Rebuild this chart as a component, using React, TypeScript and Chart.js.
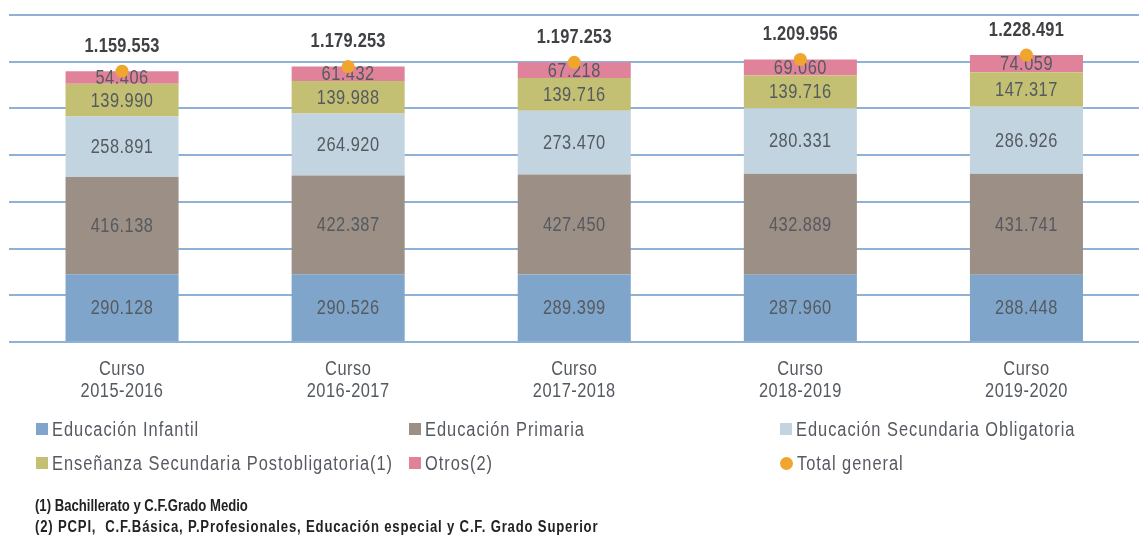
import React, { useEffect, useRef } from "react";
import { Chart, registerables } from "chart.js";

Chart.register(...registerables);

// ---- Data ----
const categories = [
  ["Curso", "2015-2016"],
  ["Curso", "2016-2017"],
  ["Curso", "2017-2018"],
  ["Curso", "2018-2019"],
  ["Curso", "2019-2020"],
];
const infantil = [290128, 290526, 289399, 287960, 288448];
const primaria = [416138, 422387, 427450, 432889, 431741];
const secundariaObligatoria = [258891, 264920, 273470, 280331, 286926];
const postobligatoria = [139990, 139988, 139716, 139716, 147317];
const otros = [54406, 61432, 67218, 69060, 74059];
const totalGeneral = [1159553, 1179253, 1197253, 1209956, 1228491];

const seriesNames = [
  "Educación Infantil",
  "Educación Primaria",
  "Educación Secundaria Obligatoria",
  "Enseñanza Secundaria Postobligatoria(1)",
  "Otros(2)",
  "Total general",
];
const seriesColors = ["#7fa6ca", "#9c8f86", "#c3d4e1", "#c3c073", "#e0839a", "#f0a62c"];
const footnotes = [
  "(1) Bachillerato y C.F.Grado Medio",
  "(2) PCPI,  C.F.Básica, P.Profesionales, Educación especial y C.F. Grado Superior",
];
const yMax = 1400000;
const yStep = 200000;

const FONT = '"Liberation Sans", Arial, sans-serif';
const NARROW = 0.82; // horizontal compression to imitate a condensed face
const TEXT_COLOR = "#555a60";

const fmt = (v: number) => String(v).replace(/\B(?=(\d{3})+(?!\d))/g, ".");

function drawNarrow(ctx: any, text: string, x: number, y: number, font: string, color: string, spacing: string) {
  ctx.save();
  ctx.font = font;
  ctx.letterSpacing = spacing;
  ctx.fillStyle = color;
  ctx.textAlign = "center";
  ctx.textBaseline = "middle";
  ctx.translate(x, y);
  ctx.scale(NARROW, 1);
  ctx.fillText(text, 0, 0);
  ctx.restore();
}

const labelsPlugin = {
  id: "valueLabels",
  afterDatasetDraw(chart: any, args: any) {
    const meta = args.meta;
    if (meta.type !== "bar") return;
    const ds = chart.data.datasets[args.index];
    meta.data.forEach((el: any, i: number) => {
      const p = el.getProps(["x", "y", "base"], true);
      drawNarrow(chart.ctx, fmt(ds.data[i]), p.x, (p.y + p.base) / 2 + 1, `20px ${FONT}`, TEXT_COLOR, "0.6px");
    });
  },
  afterDatasetsDraw(chart: any) {
    chart.data.datasets.forEach((ds: any, di: number) => {
      if (ds.type !== "line") return;
      const meta = chart.getDatasetMeta(di);
      meta.data.forEach((el: any, i: number) => {
        drawNarrow(chart.ctx, fmt(ds.data[i]), el.x, el.y - 25, `bold 20px ${FONT}`, "#3f4145", "0.3px");
      });
    });
  },
  afterDraw(chart: any) {
    const xs = chart.scales.x;
    const labels = chart.data.labels as string[][];
    labels.forEach((lines, i) => {
      const x = xs.getPixelForTick(i);
      lines.forEach((line, j) => {
        drawNarrow(chart.ctx, line, x, xs.top + 27 + j * 22, `20px ${FONT}`, TEXT_COLOR, "0.6px");
      });
    });
  },
};

export default function App() {
  const ref = useRef<HTMLCanvasElement | null>(null);

  useEffect(() => {
    if (!ref.current) return;
    const barSeries = [infantil, primaria, secundariaObligatoria, postobligatoria, otros];
    const chart = new Chart(ref.current, {
      type: "bar",
      data: {
        labels: categories as any,
        datasets: [
          ...barSeries.map((d, i) => ({
            type: "bar" as const,
            label: seriesNames[i],
            data: d,
            backgroundColor: seriesColors[i],
            borderWidth: 0,
            stack: "bars",
            order: 1,
            barPercentage: 0.5,
            categoryPercentage: 1.0,
          })),
          {
            type: "line" as const,
            label: seriesNames[5],
            data: totalGeneral,
            showLine: false,
            pointRadius: 6.5,
            pointHoverRadius: 6.5,
            pointBackgroundColor: seriesColors[5],
            pointBorderWidth: 0,
            backgroundColor: seriesColors[5],
            borderColor: seriesColors[5],
            stack: "total",
            order: 0,
          } as any,
        ],
      },
      options: {
        responsive: false,
        animation: false,
        devicePixelRatio: 1,
        layout: { padding: { left: 9, top: 15, right: 0, bottom: 0 } },
        plugins: {
          legend: { display: false },
          tooltip: { enabled: false },
        },
        scales: {
          x: {
            stacked: true,
            grid: { display: false, drawTicks: false },
            border: { display: false },
            ticks: { display: false },
            afterFit: (scale: any) => {
              scale.height = 195;
            },
          },
          y: {
            stacked: true,
            min: 0,
            max: yMax,
            grid: { color: "#8fb1d5", lineWidth: 2, drawTicks: false },
            border: { display: false },
            ticks: { display: false, stepSize: yStep },
            afterFit: (scale: any) => {
              scale.width = 0;
            },
          },
        },
      },
      plugins: [labelsPlugin],
    });
    return () => chart.destroy();
  }, []);

  const legendCols = [36, 409, 780];
  const legendRows = [429, 463];
  const footnoteSpacing = ["0px", "1px"];

  return (
    <div
      style={{
        position: "absolute",
        left: 0,
        top: 0,
        width: 1139,
        height: 537,
        overflow: "hidden",
        background: "#ffffff",
        fontFamily: FONT,
      }}
    >
      <canvas ref={ref} width={1146} height={537} style={{ position: "absolute", left: 0, top: 0 }} />
      {seriesNames.map((name, i) => {
        const x = legendCols[i % 3];
        const y = legendRows[Math.floor(i / 3)];
        const isDot = i === 5;
        return (
          <div
            key={name}
            style={{
              position: "absolute",
              left: x,
              top: y - 11,
              height: 22,
              display: "flex",
              alignItems: "center",
              whiteSpace: "nowrap",
            }}
          >
            <span
              style={{
                display: "inline-block",
                flex: "none",
                width: isDot ? 13 : 12,
                height: isDot ? 13 : 12,
                borderRadius: isDot ? "50%" : 0,
                background: seriesColors[i],
                marginRight: 4,
              }}
            />
            <span
              style={{
                display: "inline-block",
                fontSize: 20,
                lineHeight: "22px",
                color: TEXT_COLOR,
                letterSpacing: "1.2px",
                transform: `scaleX(${NARROW})`,
                transformOrigin: "left center",
              }}
            >
              {name}
            </span>
          </div>
        );
      })}
      {footnotes.map((t, i) => (
        <div
          key={t}
          style={{
            position: "absolute",
            left: 35,
            top: 506 + i * 21 - 10,
            height: 20,
            lineHeight: "20px",
            fontSize: 16,
            fontWeight: "bold",
            color: "#222222",
            whiteSpace: "pre",
            letterSpacing: footnoteSpacing[i],
            transform: `scaleX(${NARROW})`,
            transformOrigin: "left center",
          }}
        >
          {t}
        </div>
      ))}
    </div>
  );
}
